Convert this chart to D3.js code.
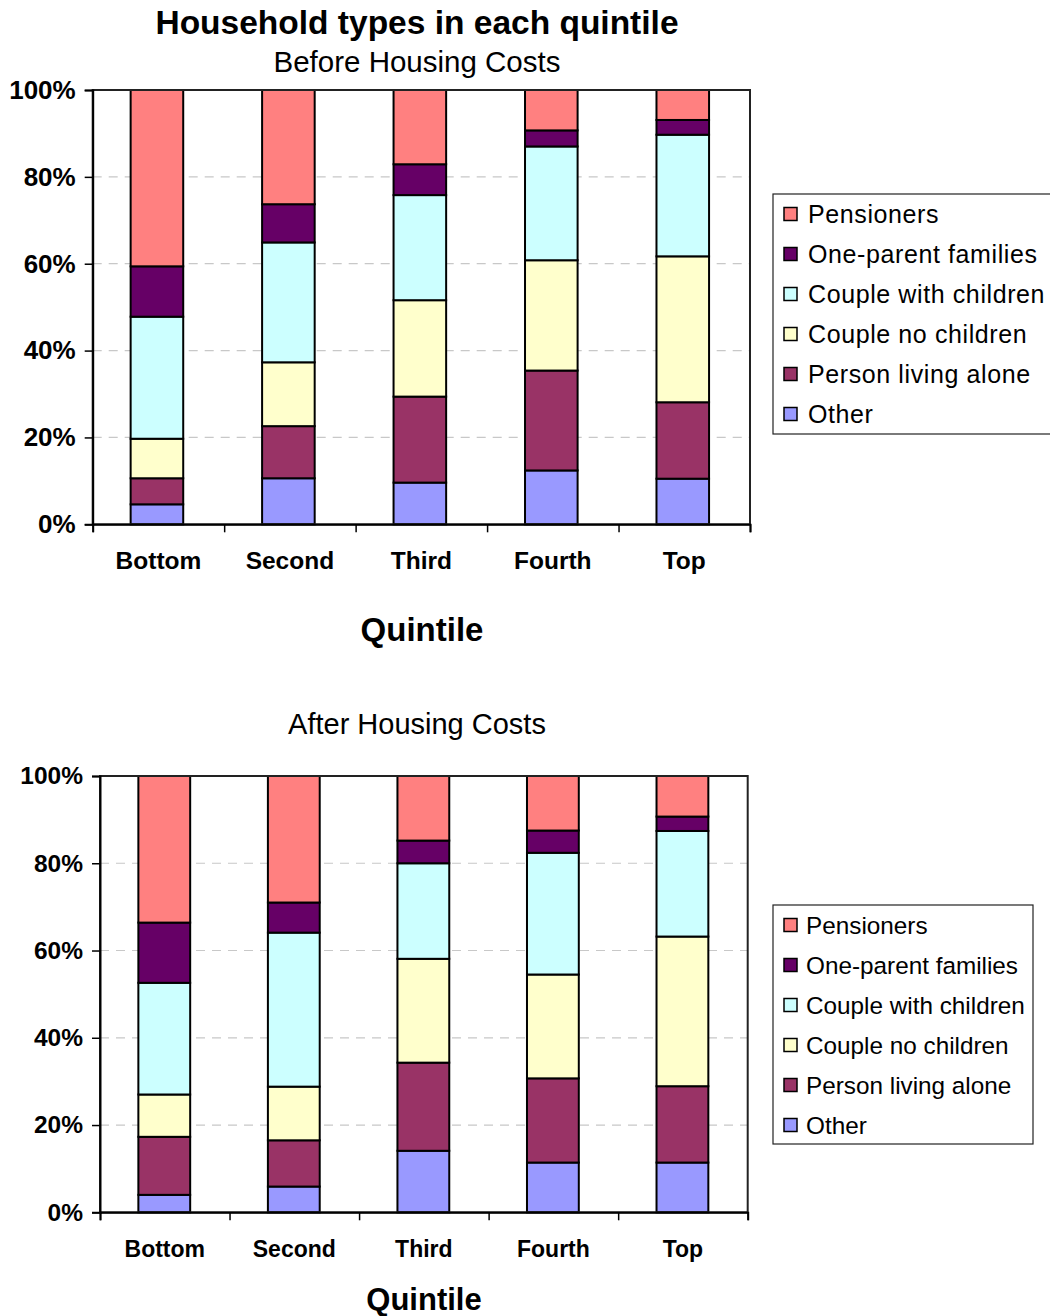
<!DOCTYPE html>
<html>
<head>
<meta charset="utf-8">
<script src="https://cdn.jsdelivr.net/npm/d3@7"></script>
<style>
  html, body { margin: 0; padding: 0; background: #fff; }
  svg { display: block; font-family: "Liberation Sans", Arial, sans-serif; }
</style>
</head>
<body>
<svg id="chart" width="1050" height="1316"></svg>
<script>
// Quintile categories (x axis)
const categories = ["Bottom", "Second", "Third", "Fourth", "Top"];

// Household types, in stacking order (bottom of bar to top)
const seriesNames = ["Other", "Person living alone", "Couple no children",
                     "Couple with children", "One-parent families", "Pensioners"];
const seriesColors = ["#9999FF", "#993366", "#FFFFCC", "#CCFFFF", "#660066", "#FF8080"];

// Before Housing Costs: share (%) of each household type per quintile
const bhcOther      = [4.6, 10.6, 9.6, 12.4, 10.5];
const bhcAlone      = [6.0, 12.0, 19.8, 23.0, 17.6];
const bhcCoupleNo   = [9.1, 14.7, 22.2, 25.4, 33.6];
const bhcCoupleWith = [28.1, 27.6, 24.2, 26.2, 28.0];
const bhcOneParent  = [11.6, 8.8, 7.1, 3.7, 3.4];
const bhcPensioners = [40.6, 26.3, 17.1, 9.3, 6.9];

// After Housing Costs: share (%) of each household type per quintile
const ahcOther      = [4.0, 5.9, 14.1, 11.4, 11.4];
const ahcAlone      = [13.3, 10.6, 20.2, 19.3, 17.5];
const ahcCoupleNo   = [9.7, 12.3, 23.8, 23.8, 34.3];
const ahcCoupleWith = [25.6, 35.3, 21.9, 27.9, 24.2];
const ahcOneParent  = [13.8, 6.9, 5.2, 5.1, 3.3];
const ahcPensioners = [33.6, 29.0, 14.8, 12.5, 9.3];

// Y axis tick values (percent)
const yTicks = [0, 20, 40, 60, 80, 100];

function buildRows(cols) {
  return categories.map((c, i) => {
    const row = { category: c };
    seriesNames.forEach((s, k) => { row[s] = cols[k][i]; });
    return row;
  });
}

const svg = d3.select("#chart");

function drawPanel(cfg) {
  const rows = buildRows(cfg.cols);
  const stacked = d3.stack().keys(seriesNames)(rows);

  const x = d3.scaleBand().domain(categories)
    .range([cfg.left, cfg.right]).paddingInner(0.6).paddingOuter(0.3);
  const xEdges = d3.scaleLinear().domain([0, categories.length]).range([cfg.left, cfg.right]);
  const y = d3.scaleLinear().domain([0, 100]).range([cfg.bottom, cfg.top]);

  const g = svg.append("g");

  // dashed horizontal gridlines
  g.append("g").selectAll("line")
    .data(yTicks.filter(t => t > 0 && t < 100))
    .join("line")
    .attr("x1", cfg.left).attr("x2", cfg.right)
    .attr("y1", d => y(d)).attr("y2", d => y(d))
    .attr("stroke", "#c8c8c8").attr("stroke-width", 1.2)
    .attr("stroke-dasharray", "9,7");

  // stacked bars
  g.append("g").selectAll("g")
    .data(stacked)
    .join("g")
    .attr("fill", (d, i) => seriesColors[i])
    .selectAll("rect")
    .data(d => d)
    .join("rect")
    .attr("x", d => x(d.data.category) + cfg.barShift)
    .attr("width", x.bandwidth())
    .attr("y", d => y(d[1]))
    .attr("height", d => y(d[0]) - y(d[1]))
    .attr("stroke", "#000").attr("stroke-width", 2);

  // plot area frame
  g.append("rect")
    .attr("x", cfg.left).attr("y", cfg.top)
    .attr("width", cfg.right - cfg.left).attr("height", cfg.bottom - cfg.top)
    .attr("fill", "none").attr("stroke", "#222").attr("stroke-width", 2);

  // y axis
  const yAxis = g.append("g")
    .attr("transform", `translate(${cfg.left},0)`)
    .call(d3.axisLeft(y).tickValues(yTicks).tickSize(8).tickPadding(9)
      .tickFormat(d => d + "%"));
  yAxis.select(".domain").attr("stroke", "#000").attr("stroke-width", 2);
  yAxis.selectAll(".tick line").attr("stroke", "#000").attr("stroke-width", 1.5);
  yAxis.selectAll("text")
    .attr("font-size", cfg.tickFont).attr("font-weight", "bold")
    .attr("fill", "#000").attr("font-family", "Liberation Sans, Arial, sans-serif");

  // x axis boundary ticks
  const xTickAxis = g.append("g")
    .attr("transform", `translate(0,${cfg.bottom})`)
    .call(d3.axisBottom(xEdges).tickValues(d3.range(categories.length + 1))
      .tickSize(8).tickFormat(""));
  xTickAxis.select(".domain").attr("stroke", "#000").attr("stroke-width", 2);
  xTickAxis.selectAll(".tick line").attr("stroke", "#000").attr("stroke-width", 1.5);

  // x category labels
  const xAxis = g.append("g")
    .attr("transform", `translate(0,${cfg.bottom})`)
    .call(d3.axisBottom(x).tickSize(0).tickPadding(cfg.catPad));
  xAxis.select(".domain").remove();
  xAxis.selectAll("text")
    .attr("font-size", cfg.catFont).attr("font-weight", "bold")
    .attr("fill", "#000").attr("font-family", "Liberation Sans, Arial, sans-serif");

  // x axis title
  g.append("text")
    .attr("x", cfg.axisTitleX).attr("y", cfg.axisTitleY)
    .attr("text-anchor", "middle")
    .attr("font-size", cfg.axisTitleFont).attr("font-weight", "bold")
    .text("Quintile");

  // subtitle
  g.append("text")
    .attr("x", cfg.subX).attr("y", cfg.subY)
    .attr("text-anchor", "middle")
    .attr("font-size", cfg.subFont)
    .text(cfg.subtitle);

  // legend (top entry = last series)
  const lg = g.append("g");
  lg.append("rect")
    .attr("x", cfg.legX).attr("y", cfg.legY)
    .attr("width", cfg.legW).attr("height", cfg.legH)
    .attr("fill", "#fff").attr("stroke", "#222").attr("stroke-width", 1.2);
  const legendItems = seriesNames.map((s, i) => ({ name: s, color: seriesColors[i] })).reverse();
  const item = lg.selectAll("g.item")
    .data(legendItems)
    .join("g").attr("class", "item")
    .attr("transform", (d, i) => `translate(${cfg.legX + 11},${cfg.legY + 20 + i * 40})`);
  item.append("rect")
    .attr("x", 0).attr("y", -6.5).attr("width", 13).attr("height", 13)
    .attr("fill", d => d.color).attr("stroke", "#000").attr("stroke-width", 1.5);
  item.append("text")
    .attr("x", cfg.legTextX).attr("y", 0).attr("dy", "0.36em")
    .attr("font-size", cfg.legFont)
    .attr("letter-spacing", cfg.legSpacing)
    .text(d => d.name);
}

// main title
svg.append("text")
  .attr("x", 417).attr("y", 34)
  .attr("text-anchor", "middle")
  .attr("font-size", 33.5).attr("font-weight", "bold")
  .text("Household types in each quintile");

drawPanel({
  cols: [bhcOther, bhcAlone, bhcCoupleNo, bhcCoupleWith, bhcOneParent, bhcPensioners],
  left: 92.7, right: 750, top: 90, bottom: 524.3, barShift: -1.5,
  tickFont: 26, catFont: 24.5, catPad: 27,
  axisTitleX: 422, axisTitleY: 641, axisTitleFont: 33,
  subtitle: "Before Housing Costs", subX: 417, subY: 72, subFont: 29.5,
  legX: 773, legY: 194, legW: 290, legH: 240, legFont: 25, legSpacing: 0.6, legTextX: 24
});

drawPanel({
  cols: [ahcOther, ahcAlone, ahcCoupleNo, ahcCoupleWith, ahcOneParent, ahcPensioners],
  left: 100, right: 747.7, top: 776, bottom: 1212.3, barShift: -0.5,
  tickFont: 24.5, catFont: 23, catPad: 28,
  axisTitleX: 424, axisTitleY: 1310, axisTitleFont: 31,
  subtitle: "After Housing Costs", subX: 417, subY: 734, subFont: 29,
  legX: 773, legY: 905, legW: 260, legH: 239, legFont: 24.3, legSpacing: 0, legTextX: 22
});
</script>
</body>
</html>
